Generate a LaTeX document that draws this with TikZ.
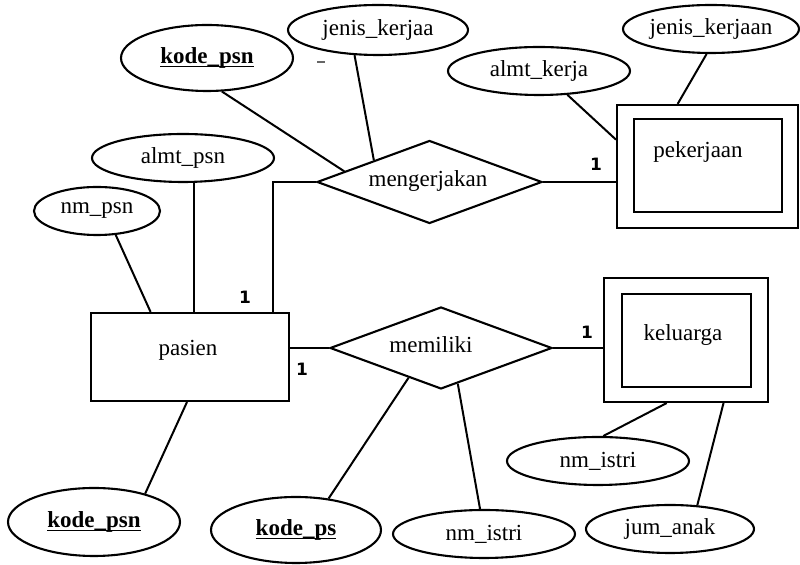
\documentclass[tikz,border=0pt]{standalone}
\usepackage{fontspec}
\setmainfont{Liberation Serif}
\newfontfamily\onefont{DejaVu Sans}
\usetikzlibrary{shapes.geometric,calc}
\newcommand\keyul[1]{\setbox0=\hbox{#1}\leavevmode\rlap{\rule[-1.9pt]{\wd0}{0.9pt}}\box0}
\begin{document}
\begin{tikzpicture}[x=0.5pt,y=-0.5pt,
  line width=1.05pt,
  attr/.style={draw, ellipse, inner sep=0pt, font=\fontsize{11.5}{13}\selectfont},
  rel/.style={draw, diamond, inner sep=0pt},
  ent/.style={draw, rectangle, inner sep=0pt},
  lbl/.style={font=\fontsize{11.5}{13}\selectfont, inner sep=0pt},
  card/.style={font=\onefont\bfseries\fontsize{8.5}{10}\selectfont, inner sep=0pt},
  conn/.style={draw, line width=1pt}]
\useasboundingbox (0,0) rectangle (800,565);
% attributes
\node[attr, minimum width=86pt, minimum height=33pt] (kp1) at (207,58) {\keyul{\textbf{kode\_psn}}};
\node[attr, minimum width=90pt, minimum height=25pt] (jk1) at (378,30) {jenis\_kerjaa};
\node[inner sep=0pt, text=black!60] (dash) at (321,62) {\rule{4pt}{0.7pt}};
\node[attr, minimum width=91pt, minimum height=24pt] (almtpsn) at (183,158) {almt\_psn};
\node[attr, minimum width=63pt, minimum height=24pt] (nmpsn) at (97,211) {nm\_psn};
\node[attr, minimum width=91pt, minimum height=24pt] (almtkerja) at (539,71) {almt\_kerja};
\node[attr, minimum width=88pt, minimum height=24pt] (jk2) at (711,29) {jenis\_kerjaan};
\node[attr, minimum width=86pt, minimum height=34pt] (kp2) at (94,522) {\keyul{\textbf{kode\_psn}}};
\node[attr, minimum width=85pt, minimum height=33pt] (kps) at (296,530) {\keyul{\textbf{kode\_ps}}};
\node[attr, minimum width=91pt, minimum height=24pt] (nmistri1) at (484,534) {nm\_istri};
\node[attr, minimum width=91pt, minimum height=24pt] (nmistri2) at (598,461) {nm\_istri};
\node[attr, minimum width=84pt, minimum height=24pt] (jumanak) at (670,529) {jum\_anak};
% relationships
\node[rel, minimum width=112.5pt, minimum height=41.5pt] (meng) at (429.5,182) {};
\node[lbl] (menglbl) at (428,181) {mengerjakan};
\node[rel, minimum width=111pt, minimum height=41pt] (meml) at (441,348) {};
\node[lbl] (memllbl) at (431,345) {memiliki};
% entities
\node[ent, minimum width=99pt, minimum height=44pt] (pasien) at (190,357) {};
\node[lbl] (pasienlbl) at (188,350) {pasien};
\node[ent, minimum width=90.5pt, minimum height=61.5pt] (pekout) at (707.5,166.5) {};
\node[ent, minimum width=74pt, minimum height=46.5pt] (pekin) at (708,165.5) {};
\node[lbl] (peklbl) at (698,152) {pekerjaan};
\node[ent, minimum width=82pt, minimum height=62pt] (kelout) at (686,340) {};
\node[ent, minimum width=64.5pt, minimum height=46.5pt] (kelin) at (686.5,340.5) {};
\node[lbl] (kellbl) at (683,335) {keluarga};
% connectors
\draw[conn] (kp1.-66) -- ($(meng.west)!0.25!(meng.north)$);
\draw[conn] (jk1.-133) -- ($(meng.west)!0.51!(meng.north)$);
\draw[conn] (meng.west) -| ($(pasien.north west)!0.914!(pasien.north east)$);
\draw[conn] (almtpsn.-66) -- (almtpsn.-66 |- pasien.north);
\draw[conn] (nmpsn.-52) -- ($(pasien.north west)!0.303!(pasien.north east)$);
\draw[conn] (meng.east) -- (meng.east -| pekout.west);
\draw[conn] (almtkerja.-40) -- ($(pekout.north west)!0.285!(pekout.south west)$);
\draw[conn] (jk2.-100) -- ($(pekout.north west)!0.337!(pekout.north east)$);
\draw[conn] (meml.west) -- (meml.west -| pasien.east);
\draw[conn] (meml.east) -- (meml.east -| kelout.west);
\draw[conn] ($(pasien.south west)!0.485!(pasien.south east)$) -- (kp2.29);
\draw[conn] (kps.44) -- ($(meml.west)!0.71!(meml.south)$);
\draw[conn] (nmistri1.99) -- ($(meml.south)!0.15!(meml.east)$);
\draw[conn] ($(kelout.south west)!0.384!(kelout.south east)$) -- (nmistri2.78);
\draw[conn] ($(kelout.south west)!0.726!(kelout.south east)$) -- (jumanak.41);
% cardinalities
\node[card] (c1) at (245,297) {1};
\node[card] (c2) at (302,369) {1};
\node[card] (c3) at (596,164) {1};
\node[card] (c4) at (587,332) {1};
\end{tikzpicture}
\end{document}
